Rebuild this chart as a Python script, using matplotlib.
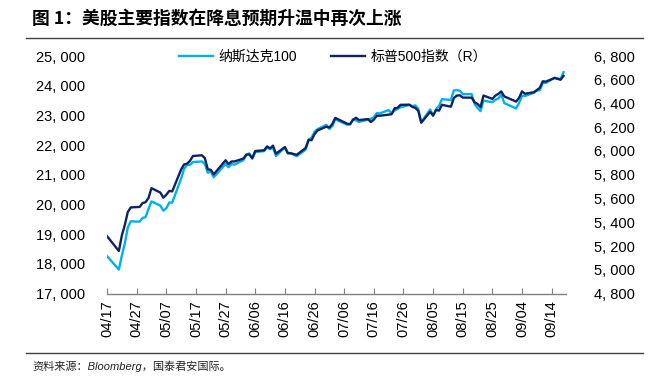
import matplotlib
matplotlib.use("Agg")
import matplotlib.pyplot as plt
import matplotlib.dates as mdates
import pandas as pd

plt.rcParams['font.family'] = ['Liberation Sans', 'Noto Sans CJK SC', 'DejaVu Sans']

# 交易日（2025年）
days_apr = ["04-17", "04-21", "04-22", "04-23", "04-24", "04-25", "04-28", "04-29", "04-30"]
days_may = ["05-01", "05-02", "05-05", "05-06", "05-07", "05-08", "05-09", "05-12", "05-13",
            "05-14", "05-15", "05-16", "05-19", "05-20", "05-21", "05-22", "05-23", "05-27",
            "05-28", "05-29", "05-30"]
days_jun = ["06-02", "06-03", "06-04", "06-05", "06-06", "06-09", "06-10", "06-11", "06-12",
            "06-13", "06-16", "06-17", "06-18", "06-20", "06-23", "06-24", "06-25", "06-26",
            "06-27", "06-30"]
days_jul = ["07-01", "07-02", "07-03", "07-07", "07-08", "07-09", "07-10", "07-11", "07-14",
            "07-15", "07-16", "07-17", "07-18", "07-21", "07-22", "07-23", "07-24", "07-25",
            "07-28", "07-29", "07-30", "07-31"]
days_aug = ["08-01", "08-04", "08-05", "08-06", "08-07", "08-08", "08-11", "08-12", "08-13",
            "08-14", "08-15", "08-18", "08-19", "08-20", "08-21", "08-22", "08-25", "08-26",
            "08-27", "08-28", "08-29"]
days_sep = ["09-02", "09-03", "09-04", "09-05", "09-08", "09-09", "09-10", "09-11", "09-12",
            "09-15", "09-16", "09-17", "09-18"]
dates = pd.to_datetime(["2025-" + d for d in days_apr + days_may + days_jun + days_jul + days_aug + days_sep])

# 纳斯达克100（左轴）
ndx = [18258, 17808, 18276, 18679, 19215, 19432, 19419, 19546, 19571,
       19846, 20103, 19960, 19792, 19868, 20064, 20061, 20868, 21197,
       21331, 21336, 21427, 21448, 21367, 21067, 21112, 20915, 21364,
       21251, 21363, 21340,
       21492, 21664, 21720, 21547, 21761, 21797, 21914, 21862, 21913,
       21631, 21921, 21719, 21719, 21626, 21844, 22191, 22238, 22447,
       22535, 22679,
       22542, 22641, 22867, 22686, 22701, 22866, 22830, 22780, 22856,
       22885, 22934, 23077, 23065, 23180, 23062, 23162, 23219, 23272,
       23356, 23308, 23336, 23218,
       22763, 23198, 22983, 23206, 23318, 23547, 23519, 23840, 23849,
       23830, 23713, 23714, 23385, 23254, 23142, 23498, 23442, 23525,
       23565, 23704, 23415,
       23232, 23415, 23658, 23652, 23762, 23839, 23849, 24092, 24092,
       24269, 24248, 24220, 24454]

# 标普500指数（右轴）
spx = [5283, 5158, 5288, 5376, 5485, 5525, 5529, 5561, 5569,
       5604, 5687, 5650, 5607, 5631, 5664, 5660, 5844, 5887,
       5893, 5917, 5958, 5964, 5940, 5845, 5842, 5803, 5922,
       5889, 5912, 5912,
       5936, 5970, 5971, 5939, 6000, 6006, 6039, 6022, 6045,
       5977, 6033, 5983, 5981, 5968, 6025, 6092, 6092, 6141,
       6173, 6205,
       6198, 6227, 6279, 6230, 6226, 6263, 6280, 6260, 6269,
       6244, 6264, 6297, 6297, 6306, 6310, 6359, 6363, 6389,
       6390, 6371, 6363, 6339,
       6238, 6330, 6299, 6345, 6340, 6389, 6373, 6446, 6467,
       6469, 6450, 6449, 6411, 6396, 6370, 6467, 6439, 6466,
       6481, 6502, 6460,
       6416, 6448, 6502, 6482, 6495, 6513, 6532, 6587, 6584,
       6615, 6607, 6600, 6632]

tick_dates = pd.date_range("2025-04-17", "2025-09-14", freq="10D")

c_ndx = "#00B0F0"
c_spx = "#0C2461"

fig = plt.figure(figsize=(6.55, 3.89), dpi=100, facecolor="white")
ax = fig.add_axes([107 / 655, 1 - 293.5 / 389, (566 - 107) / 655, (293.5 - 56) / 389])
ax2 = ax.twinx()

l1, = ax.plot(dates, ndx, color=c_ndx, lw=1.7, label="纳斯达克100", zorder=2)
l2, = ax2.plot(dates, spx, color=c_spx, lw=1.7, label="标普500指数（R）", zorder=3)

ax.set_ylim(17000, 25000)
ax.set_yticks(range(17000, 25001, 1000))
ax2.set_ylim(4800, 6800)
ax2.set_yticks(range(4800, 6801, 200))
ax.set_xlim(pd.Timestamp("2025-04-17"), pd.Timestamp("2025-09-18 20:00"))

fmt = matplotlib.ticker.FuncFormatter(lambda v, p: "{:,.0f}".format(v).replace(",", ", "))
ax.yaxis.set_major_formatter(fmt)
ax2.yaxis.set_major_formatter(fmt)

ax.set_xticks(tick_dates)
ax.xaxis.set_major_formatter(mdates.DateFormatter("%m/%d"))
ax.tick_params(axis="x", direction="in", length=4, color="#808080", labelsize=10.5,
               labelrotation=90, pad=5)
ax.tick_params(axis="y", length=0, labelsize=10.5, pad=16)
ax2.tick_params(axis="y", length=0, labelsize=10.5, pad=20)

for a in (ax, ax2):
    for s in ("top", "left", "right"):
        a.spines[s].set_visible(False)
ax2.spines["bottom"].set_visible(False)
ax.spines["bottom"].set_color("#808080")
ax.spines["bottom"].set_linewidth(1.0)

fig.legend([l1, l2], [l1.get_label(), l2.get_label()], loc="center",
           bbox_to_anchor=(333 / 655, 1 - 57 / 389), ncol=2, frameon=False,
           fontsize=10, handlelength=2.4, columnspacing=2.5, handletextpad=0.4)

# 标题与来源
fig.text(32 / 655, 1 - 19 / 389, "图 1：美股主要指数在降息预期升温中再次上涨",
         fontsize=12.8, fontweight="bold", va="center", ha="left",
         family=["Noto Sans CJK SC", "DejaVu Sans"])
fig.add_artist(plt.Line2D([26 / 655, 643 / 655], [1 - 38 / 389, 1 - 38 / 389],
                          color="#404040", lw=1.0))
fig.add_artist(plt.Line2D([26 / 655, 643 / 655], [1 - 353 / 389, 1 - 353 / 389],
                          color="#404040", lw=1.0))
fig.text(32 / 655, 1 - 366 / 389, "资料来源：Bloomberg，国泰君安国际。", fontsize=8,
         style="italic", va="center", ha="left", color="#222222")

fig.savefig("out.png", dpi=100, facecolor="white")
